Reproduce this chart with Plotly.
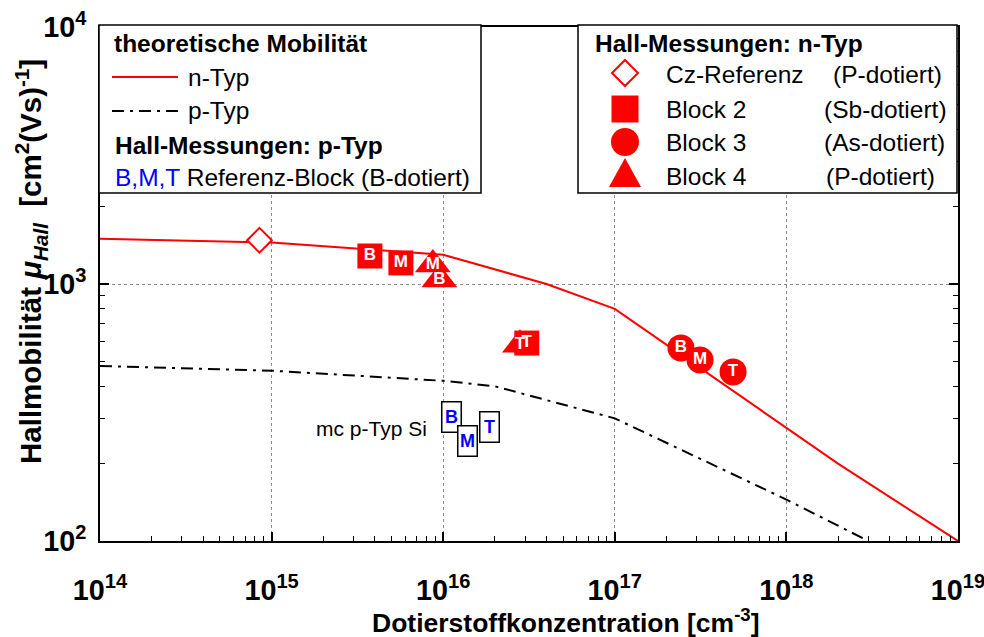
import numpy as np
import plotly.graph_objects as go

# Theoretical mobility curves (doping concentration in cm^-3, mobility in cm^2/Vs)
n_conc = [1e14, 1e15, 1e16, 4e16, 1e17, 2e18, 1e19]
n_mob = [1500, 1450, 1300, 1000, 800, 200, 100]
p_conc = [1e14, 1e15, 1e16, 2e16, 1e17, 1e18, 3e18]
p_mob = [480, 460, 420, 400, 300, 145, 100]

# Hall measurements, n-type
cz_conc = [8.5e14]
cz_mob = [1480]
block2_conc = [3.74e15, 5.67e15, 3.07e16]
block2_mob = [1285, 1208, 589]
block3_conc = [2.43e17, 3.14e17, 4.89e17]
block3_mob = [564, 506, 455]
block4_conc = [9.5e15, 8.7e15, 2.8e16]
block4_mob = [1040, 1190, 580]
pos_labels = ["B", "M", "T"]

# Hall measurements, p-type reference block
ref_conc = [1.12e16, 1.38e16, 1.85e16]
ref_mob = [303, 245, 278]

FONT = "Liberation Sans, Arial, sans-serif"
RED = "#ff0000"
LEG = 24.5

# plot area in pixels
L, R, T, B = 100, 958, 27, 541


def px(x):
    return (x - L) / (R - L)


def py(y):
    return (B - y) / (B - T)


fig = go.Figure()

fig.add_trace(go.Scatter(x=n_conc, y=n_mob, mode="lines",
                         line=dict(color=RED, width=2), showlegend=False))
fig.add_trace(go.Scatter(x=p_conc, y=p_mob, mode="lines",
                         line=dict(color="black", width=2, dash="12px,6px,3px,6px"),
                         showlegend=False))

fig.add_trace(go.Scatter(x=cz_conc, y=cz_mob, mode="markers",
                         marker=dict(symbol="diamond", size=19, color="white",
                                     line=dict(color=RED, width=2)),
                         showlegend=False))

# filled markers: block 4 (triangles), block 2 (squares), block 3 (circles)
series = [
    (block4_conc, block4_mob, "triangle-up", 31),
    (block2_conc, block2_mob, "square", 25),
    (block3_conc, block3_mob, "circle", 27),
]
for xs, ys, sym, size in series:
    fig.add_trace(go.Scatter(x=xs, y=ys, mode="markers",
                             marker=dict(symbol=sym, size=size, color=RED,
                                         line=dict(width=0)),
                             showlegend=False))
# position letters on top of all markers
label_font = dict(color="white", size=17, family=FONT)
for xs, ys, _, _ in series:
    fig.add_trace(go.Scatter(x=xs, y=ys, mode="text",
                             text=[f"<b>{t}</b>" for t in pos_labels],
                             textposition="middle center", textfont=label_font,
                             showlegend=False, hoverinfo="skip"))

# p-type reference block: boxed blue letters
for x, y, lab in zip(ref_conc, ref_mob, pos_labels):
    fig.add_annotation(x=np.log10(x), y=np.log10(y), xref="x", yref="y",
                       text=f"<b>{lab}</b>", showarrow=False,
                       font=dict(color="blue", size=18, family=FONT),
                       bgcolor="white", bordercolor="black", borderwidth=1.5,
                       borderpad=1, width=16, height=27)

fig.add_annotation(x=np.log10(8.27e15), y=np.log10(275), xref="x", yref="y",
                   text="mc p-Typ Si", showarrow=False, xanchor="right",
                   font=dict(color="black", size=21, family=FONT))

# ---- legend boxes ----
shapes = []
shapes.append(dict(type="rect", xref="paper", yref="paper",
                   x0=px(99), x1=px(481), y0=py(193), y1=py(25),
                   fillcolor="white", line=dict(color="black", width=1.5), layer="above"))
shapes.append(dict(type="rect", xref="paper", yref="paper",
                   x0=px(578), x1=px(957), y0=py(193), y1=py(25),
                   fillcolor="white", line=dict(color="black", width=1.5), layer="above"))
# line samples
shapes.append(dict(type="line", xref="paper", yref="paper",
                   x0=px(112), x1=px(178), y0=py(77), y1=py(77),
                   line=dict(color=RED, width=2), layer="above"))
shapes.append(dict(type="line", xref="paper", yref="paper",
                   x0=px(112), x1=px(178), y0=py(111), y1=py(111),
                   line=dict(color="black", width=2, dash="12px,6px,3px,6px"), layer="above"))


def sym_path(points):
    return "M " + " L ".join(f"{px(a):.5f},{py(b):.5f}" for a, b in points) + " Z"


cx = 625
# diamond
shapes.append(dict(type="path", xref="paper", yref="paper",
                   path=sym_path([(cx, 73 - 13), (cx + 13, 73), (cx, 73 + 13), (cx - 13, 73)]),
                   fillcolor="white", line=dict(color=RED, width=2), layer="above"))
# square
shapes.append(dict(type="rect", xref="paper", yref="paper",
                   x0=px(cx - 13.5), x1=px(cx + 13.5), y0=py(109 + 13.5), y1=py(109 - 13.5),
                   fillcolor=RED, line=dict(width=0), layer="above"))
# circle
shapes.append(dict(type="circle", xref="paper", yref="paper",
                   x0=px(cx - 14), x1=px(cx + 14), y0=py(142 + 14), y1=py(142 - 14),
                   fillcolor=RED, line=dict(width=0), layer="above"))
# triangle
shapes.append(dict(type="path", xref="paper", yref="paper",
                   path=sym_path([(cx, 158), (cx + 16, 187), (cx - 16, 187)]),
                   fillcolor=RED, line=dict(width=0), layer="above"))


def note(x, y, text, size=LEG, bold=False, color="black"):
    fig.add_annotation(x=px(x), y=py(y), xref="paper", yref="paper",
                       text=f"<b>{text}</b>" if bold else text,
                       showarrow=False, xanchor="left", yanchor="middle",
                       font=dict(size=size, family=FONT, color=color))


note(112, 43, "theoretische Mobilität", bold=True)
note(186, 77, "n-Typ")
note(186, 111, "p-Typ")
note(113, 146, "Hall-Messungen: p-Typ", bold=True)
note(113, 178, "<span style='color:blue'>B,M,T</span> Referenz-Block (B-dotiert)")

note(593, 43, "Hall-Messungen: n-Typ", bold=True)
note(664, 74, "Cz-Referenz")
note(831, 74, "(P-dotiert)")
note(664, 109, "Block 2")
note(822, 109, "(Sb-dotiert)")
note(664, 142, "Block 3")
note(822, 142, "(As-dotiert)")
note(664, 177, "Block 4")
note(824, 177, "(P-dotiert)")

# axis titles
fig.add_annotation(x=px(31), y=py(262), xref="paper", yref="paper", textangle=-90,
                   xanchor="center", yanchor="middle",
                   text="<b>Hallmobilität <i>μ<sub>Hall</sub></i>&nbsp;&nbsp;[cm<sup>2</sup>(Vs)<sup>-1</sup>]</b>",
                   showarrow=False, font=dict(size=29.5, family=FONT, color="black"))
fig.add_annotation(x=px(566), y=py(621), xref="paper", yref="paper",
                   xanchor="center", yanchor="middle",
                   text="<b>Dotierstoffkonzentration [cm<sup>-3</sup>]</b>",
                   showarrow=False, font=dict(size=26.5, family=FONT, color="black"))

axis_common = dict(
    type="log", dtick=1, exponentformat="power", showexponent="all",
    showline=True, linecolor="black", linewidth=2,
    ticks="inside", ticklen=9, tickwidth=1.5, tickcolor="black",
    tickfont=dict(size=23, family=FONT, color="black", weight="bold"),
    ticklabeloverflow="allow", automargin=False,
    showgrid=True, gridcolor="#8c8c8c", griddash="dot", gridwidth=1,
    zeroline=False,
    minor=dict(ticks="inside", ticklen=5, tickwidth=1.2, tickcolor="black",
               dtick="D1", showgrid=False),
)

fig.update_xaxes(range=[14, 19.0002], mirror=True, ticklabelstandoff=24, **axis_common)
fig.update_yaxes(range=[2, 4], mirror="allticks", ticklabelstandoff=7, **axis_common)

fig.update_layout(
    width=984, height=637,
    margin=dict(l=L, r=984 - R, t=T, b=637 - B, autoexpand=False),
    plot_bgcolor="white", paper_bgcolor="white",
    shapes=shapes, showlegend=False,
    font=dict(family=FONT, color="black"),
)

fig.write_html("out.html")
